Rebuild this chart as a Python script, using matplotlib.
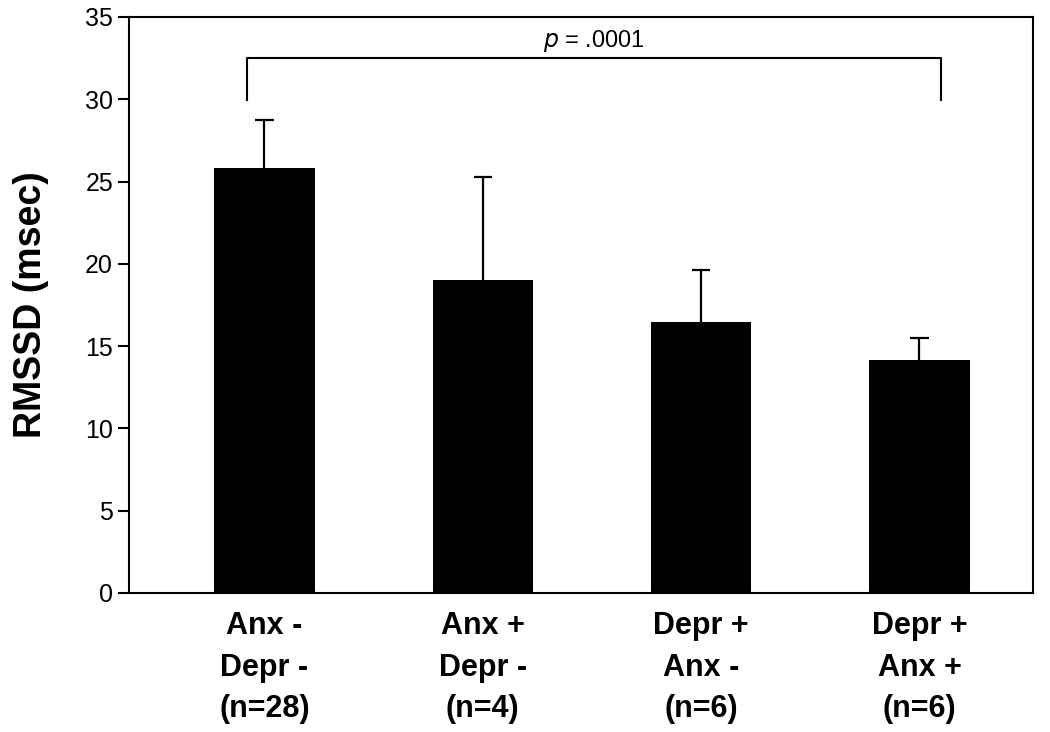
import numpy as np
import matplotlib
matplotlib.use('Agg')
import matplotlib.pyplot as plt

plt.rcParams['font.family'] = ['Liberation Sans', 'DejaVu Sans']

# Group labels and RMSSD means with upper error bars
groups = ['Anx -\nDepr -\n(n=28)', 'Anx +\nDepr -\n(n=4)',
          'Depr +\nAnx -\n(n=6)', 'Depr +\nAnx +\n(n=6)']
rmssd = [25.8, 19.0, 16.45, 14.15]
err_up = [2.95, 6.25, 3.15, 1.35]
yticks = [0, 5, 10, 15, 20, 25, 30, 35]

fig = plt.figure(figsize=(10.5, 7.32), dpi=100)
ax = fig.add_axes([0.1229, 0.1899, 0.8609, 0.7869])

x = np.arange(len(groups))
tops = np.array(rmssd) + np.array(err_up)
ax.bar(x, rmssd, width=0.46, color='black', zorder=2)
# upper-only error bars: stem plus cap
ax.vlines(x, rmssd, tops, color='black', lw=1.6, zorder=1)
ax.hlines(tops, x - 0.042, x + 0.042, color='black', lw=1.6, zorder=1)

# significance bracket between first and last group
x0, x1 = x[0] - 0.08, x[-1] + 0.1
ax.plot([x0, x0, x1, x1], [29.95, 32.5, 32.5, 29.95], color='black', lw=1.5)
ax.text((x0 + x1) / 2, 33.2, r'$p$ = .0001', ha='center', va='baseline', fontsize=17)

ax.set_xlim(-0.62, 3.52)
ax.set_ylim(0, 35)
ax.set_yticks(yticks)
ax.tick_params(axis='y', labelsize=18, length=8, width=1.5, direction='out')
ax.set_xticks(x)
ax.set_xticklabels(groups, fontsize=22, fontweight='bold', linespacing=1.5)
ax.tick_params(axis='x', length=0, pad=13)
for s in ax.spines.values():
    s.set_linewidth(1.5)
ax.set_ylabel('RMSSD (msec)', fontsize=27, fontweight='bold', labelpad=26)

fig.savefig('out.png', dpi=100)
